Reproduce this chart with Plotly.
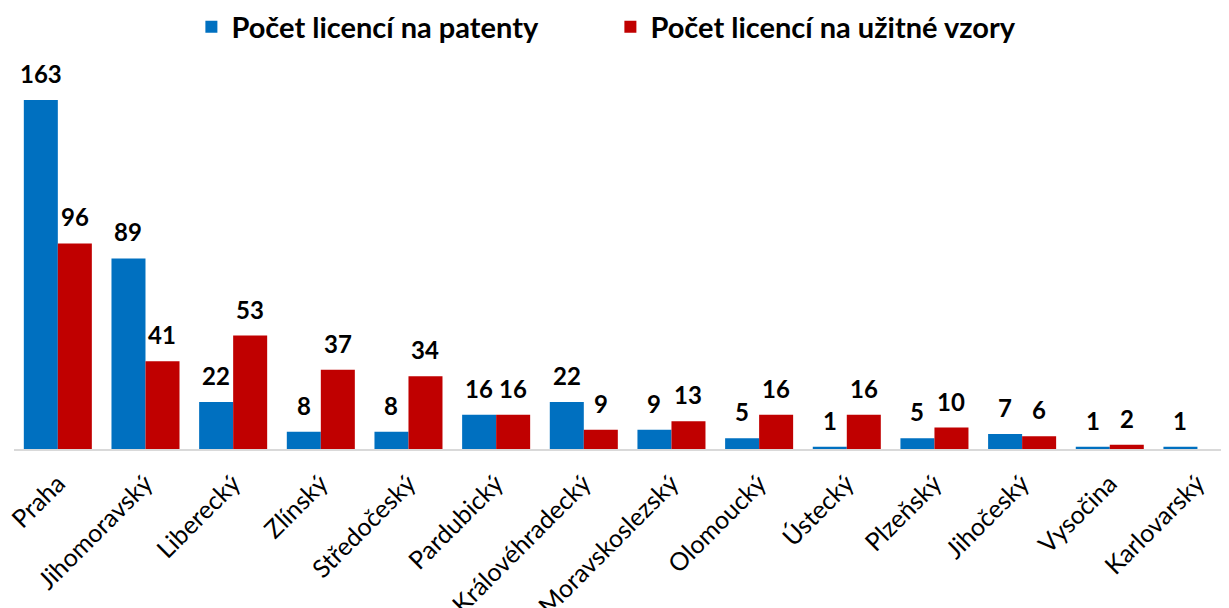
import plotly.graph_objects as go

categories = ["Praha", "Jihomoravský", "Liberecký", "Zlínský", "Středočeský", "Pardubický",
              "Královéhradecký", "Moravskoslezský", "Olomoucký", "Ústecký", "Plzeňský",
              "Jihočeský", "Vysočina", "Karlovarský"]
patenty = [163, 89, 22, 8, 8, 16, 22, 9, 5, 1, 5, 7, 1, 1]
vzory = [96, 41, 53, 37, 34, 16, 9, 13, 16, 16, 10, 6, 2, None]

font_family = "Lato, 'Open Sans', sans-serif"

fig = go.Figure()
fig.add_trace(go.Bar(
    x=categories, y=patenty, name="Počet licencí na patenty",
    marker=dict(color="#0070C0", line=dict(width=0)),
))
fig.add_trace(go.Bar(
    x=categories, y=vzory, name="Počet licencí na užitné vzory",
    marker=dict(color="#C00000", line=dict(width=0)),
))

# value labels above bars, placed in data coordinates
bar_half_px = 17
for series, shift in ((patenty, -bar_half_px), (vzory, bar_half_px)):
    for cat, val in zip(categories, series):
        if val is None:
            continue
        fig.add_annotation(
            x=cat, y=val, xref="x", yref="y", text=str(val), showarrow=False,
            xshift=shift, yshift=10, yanchor="bottom",
            font=dict(family=font_family, size=24, color="black", weight="bold"),
        )

# The page body has an 8px margin, so the figure is sized to fill the remaining viewport.
fig.update_layout(
    width=1221, height=600,
    paper_bgcolor="white", plot_bgcolor="white",
    margin=dict(l=6, r=0, t=52, b=159, autoexpand=False),
    barmode="group", bargap=0.224, bargroupgap=0,
    font=dict(family=font_family, color="black"),
    showlegend=True,
    legend=dict(orientation="h", x=0.146, xanchor="left", y=1.085, yanchor="middle",
                yref="paper", font=dict(size=29, weight="bold"),
                itemwidth=30, traceorder="normal", entrywidth=374),
    xaxis=dict(range=[-0.5, 13.36], showline=True, linecolor="#D9D9D9", linewidth=2,
               ticks="", tickangle=-45, tickfont=dict(size=25, family=font_family),
               showgrid=False, automargin=False, ticklabelstandoff=8),
    yaxis=dict(range=[0, 181.7], visible=False, showgrid=False, automargin=False),
)

fig.write_html("out.html")
